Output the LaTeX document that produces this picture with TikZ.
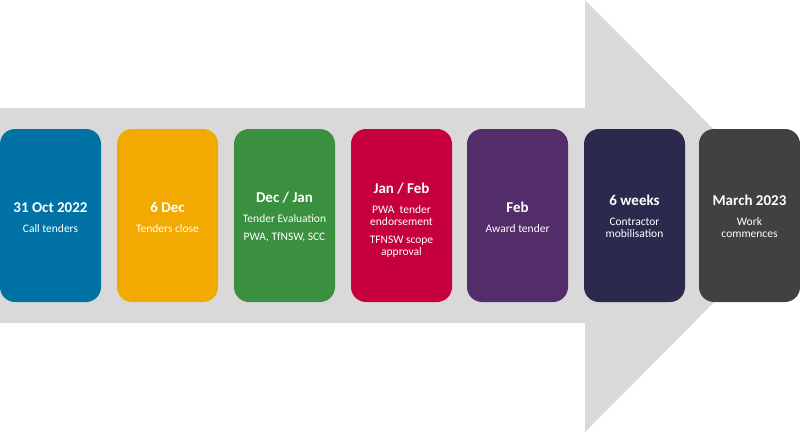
\documentclass[tikz,border=0pt]{standalone}
\usepackage{fontspec}
\setmainfont{Carlito}
\definecolor{arrowgray}{HTML}{D9D9D9}
\definecolor{cblue}{HTML}{0072A6}
\definecolor{corange}{HTML}{F2A900}
\definecolor{cgreen}{HTML}{3A903E}
\definecolor{cred}{HTML}{C6003C}
\definecolor{cpurple}{HTML}{532C6A}
\definecolor{cnavy}{HTML}{2C294E}
\definecolor{cdark}{HTML}{414141}
\newcommand\hdtxt[1]{{\fontsize{15}{16}\selectfont\bfseries #1}}
\newcommand\sbtxt{\fontsize{11.5}{12}\selectfont}
\tikzset{
  stagebox/.style={rounded corners=15pt, minimum width=101pt, minimum height=173pt,
    inner sep=0pt, anchor=center},
  stagetext/.style={inner sep=0pt, text=white, align=center, anchor=center}
}
\begin{document}
\begin{tikzpicture}[x=1pt,y=-1pt]
\useasboundingbox (0,0) rectangle (800,432);
\fill[arrowgray] (0,108) -- (585,108) -- (585,0) -- (800,216) -- (585,432) -- (585,323) -- (0,323) -- cycle;
\node[stagebox, fill=cblue] (b1) at (50.5,215.5) {};
\node[stagebox, fill=corange] (b2) at (167.5,215.5) {};
\node[stagebox, fill=cgreen] (b3) at (284.5,215.5) {};
\node[stagebox, fill=cred] (b4) at (401.5,215.5) {};
\node[stagebox, fill=cpurple] (b5) at (517.5,215.5) {};
\node[stagebox, fill=cnavy] (b6) at (634.5,215.5) {};
\node[stagebox, fill=cdark] (b7) at (749.5,215.5) {};
\node[stagetext] (t1) at ([yshift=-2pt]b1.center) {\hdtxt{31 Oct 2022}\\[8pt]{\sbtxt Call tenders}};
\node[stagetext] (t2) at ([yshift=-2pt]b2.center) {\hdtxt{6 Dec}\\[8pt]{\sbtxt Tenders close}};
\node[stagetext] (t3) at ([yshift=-1pt]b3.center) {\hdtxt{Dec / Jan}\\[8pt]{\sbtxt Tender Evaluation}\\[6pt]{\sbtxt PWA, TfNSW, SCC}};
\node[stagetext] (t4) at ([yshift=-4.5pt]b4.center) {\hdtxt{Jan / Feb}\\[8pt]{\sbtxt PWA\ \ tender}\\{\sbtxt endorsement}\\[6pt]{\sbtxt TFNSW scope}\\{\sbtxt approval}};
\node[stagetext] (t5) at ([yshift=-2pt]b5.center) {\hdtxt{Feb}\\[8pt]{\sbtxt Award tender}};
\node[stagetext] (t6) at ([yshift=-1pt]b6.center) {\hdtxt{6 weeks}\\[8pt]{\sbtxt Contractor}\\{\sbtxt mobilisation}};
\node[stagetext] (t7) at ([yshift=-1pt]b7.center) {\hdtxt{March 2023}\\[8pt]{\sbtxt Work}\\{\sbtxt commences}};
\end{tikzpicture}
\end{document}
